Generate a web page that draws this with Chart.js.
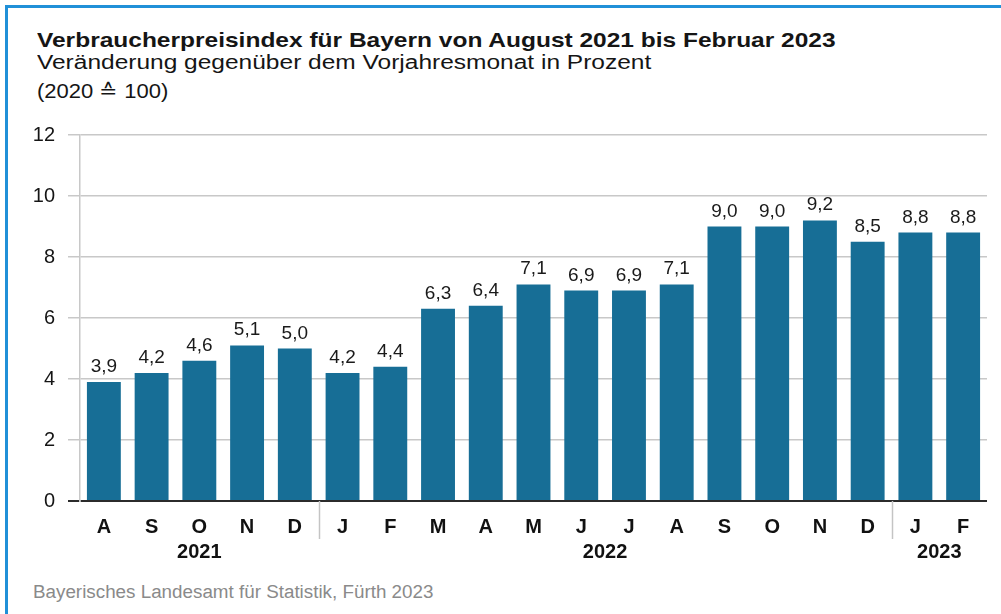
<!DOCTYPE html>
<html lang="de">
<head>
<meta charset="utf-8">
<title>Verbraucherpreisindex Bayern</title>
<script src="https://cdn.jsdelivr.net/npm/chart.js@4.4.1/dist/chart.umd.min.js"></script>
<style>
  html, body { margin: 0; padding: 0; background: #fff; }
  #frame {
    position: relative; width: 1001px; height: 614px; overflow: hidden;
    font-family: "Liberation Sans", Arial, sans-serif; color: #151515;
  }
  #edge {
    position: absolute; left: 5px; top: 5px; width: 1010px; height: 620px;
    border-top: 3px solid #2090d8; border-left: 3px solid #2090d8;
  }
  .txt { position: absolute; left: 37px; white-space: nowrap; line-height: 24px; transform-origin: 0 50%; }
  #title { top: 28px; font-size: 21px; font-weight: bold; transform: scaleX(1.167); }
  #sub1 { top: 50px; font-size: 20px; transform: scaleX(1.225); }
  #sub2 { top: 79px; font-size: 20px; transform: scaleX(1.1); }
  #source { top: 580px; left: 33px; font-size: 18px; color: #8a8a8a; transform: scaleX(1.045); }
  #wheel { position: absolute; left: 0; top: 110px; }
</style>
</head>
<body>
<div id="frame">
  <div id="edge"></div>
  <div class="txt" id="title">Verbraucherpreisindex für Bayern von August 2021 bis Februar 2023</div>
  <div class="txt" id="sub1">Veränderung gegenüber dem Vorjahresmonat in Prozent</div>
  <div class="txt" id="sub2">(2020 ≙ 100)</div>
  <canvas id="wheel" width="1001" height="460"></canvas>
  <div class="txt" id="source">Bayerisches Landesamt für Statistik, Fürth 2023</div>
</div>
<script>
// months from August 2021 to February 2023
const months = ["A", "S", "O", "N", "D", "J", "F", "M", "A", "M", "J", "J", "A", "S", "O", "N", "D", "J", "F"];
// change vs. same month of previous year, in percent
const values = [3.9, 4.2, 4.6, 5.1, 5.0, 4.2, 4.4, 6.3, 6.4, 7.1, 6.9, 6.9, 7.1, 9.0, 9.0, 9.2, 8.5, 8.8, 8.8];
// year groups under the month labels (index of first month in each year)
const years = ["2021", "2022", "2023"];
const yearStart = [0, 5, 17];
// y axis ticks
const yTicks = [0, 2, 4, 6, 8, 10, 12];

const font = "'Liberation Sans', Arial, sans-serif";

//plugin: value above every bar, German decimal comma
const valueLabels = {
  id: "valueLabels",
  afterDatasetsDraw(chart) {
    const ctx = chart.ctx;
    const meta = chart.getDatasetMeta(0);
    ctx.save();
    ctx.font = "19px " + font;
    ctx.fillStyle = "#1a1a1a";
    ctx.textAlign = "center";
    ctx.textBaseline = "alphabetic";
    meta.data.forEach((bar, i) => {
      ctx.fillText(values[i].toFixed(1).replace(".", ","), bar.x, bar.y - 10);
    });
    ctx.restore();
  },
};

//plugin: year labels and separators below the x axis
const yearGroups = {
  id: "yearGroups",
  afterDraw(chart) {
    const xs = chart.scales.x;
    const ctx = chart.ctx;
    const bottom = chart.chartArea.bottom;
    const half = (xs.getPixelForValue(1) - xs.getPixelForValue(0)) / 2;
    ctx.save();
    ctx.font = "bold 20px " + font;
    ctx.fillStyle = "#111";
    ctx.textAlign = "center";
    ctx.strokeStyle = "#c4c4c4";
    ctx.lineWidth = 1.5;
    yearStart.forEach((start, k) => {
      const end = k + 1 < yearStart.length ? yearStart[k + 1] - 1 : months.length - 1;
      if (start > 0) {
        const sx = Math.round(xs.getPixelForValue(start) - half) + 0.5;
        ctx.beginPath();
        ctx.moveTo(sx, bottom);
        ctx.lineTo(sx, bottom + 38);
        ctx.stroke();
      }
      const cx = (xs.getPixelForValue(start) + xs.getPixelForValue(end)) / 2;
      ctx.fillText(years[k], cx, bottom + 57);
    });
    ctx.restore();
  },
};

new Chart(document.getElementById("wheel"), {
  type: "bar",
  plugins: [valueLabels, yearGroups],
  data: {
    labels: months,
    datasets: [
      {
        data: values,
        backgroundColor: "#176e96",
        barPercentage: 0.71,
        categoryPercentage: 1.0,
      },
    ],
  },
  options: {
    responsive: false,
    devicePixelRatio: 1,
    animation: false,
    layout: { padding: { top: 25, right: 14, left: 0, bottom: 0 } },
    plugins: {
      legend: { display: false },
      tooltip: { enabled: false },
    },
    scales: {
      x: {
        grid: { display: false },
        border: { display: false },
        ticks: {
          color: "#111",
          padding: 6,
          font: { family: font, size: 20, weight: "bold" },
          maxRotation: 0,
          autoSkip: false,
        },
        afterFit: (scale) => { scale.height = 69; },
      },
      y: {
        min: 0,
        max: 12,
        afterBuildTicks: (scale) => { scale.ticks = yTicks.map((v) => ({ value: v })); },
        grid: {
          color: (c) => (c.tick && c.tick.value === 0 ? "#2b2b2b" : "#c8c8c8"),
          lineWidth: (c) => (c.tick && c.tick.value === 0 ? 2 : 1.5),
          tickLength: 12,
        },
        border: { display: true, color: "#c8c8c8", width: 1.5 },
        ticks: {
          color: "#151515",
          padding: 13,
          font: { family: font, size: 20 },
        },
        afterFit: (scale) => { scale.width = 80; },
      },
    },
  },
});
</script>
</body>
</html>
